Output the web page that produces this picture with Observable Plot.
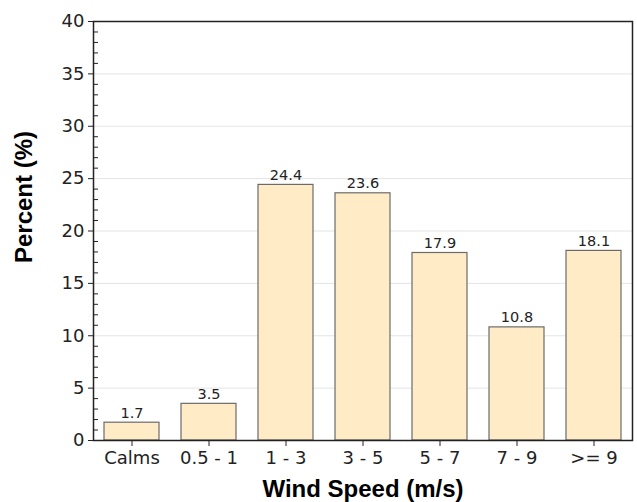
<!DOCTYPE html>
<html>
<head>
<meta charset="utf-8">
<script src="https://cdn.jsdelivr.net/npm/d3@7"></script>
<script src="https://cdn.jsdelivr.net/npm/@observablehq/plot@0.6"></script>
<style>
  html, body { margin: 0; padding: 0; background: #fff; }
  #chart { width: 637px; height: 502px; }
</style>
</head>
<body>
<div id="chart"></div>
<script>
const categories = ["Calms", "0.5 - 1", "1 - 3", "3 - 5", "5 - 7", "7 - 9", ">= 9"];
const percents = [1.7, 3.5, 24.4, 23.6, 17.9, 10.8, 18.1];
const yMajorTicks = [0, 5, 10, 15, 20, 25, 30, 35, 40];
const yMinorTicks = d3.range(0, 41, 1).filter(d => d % 5 !== 0);
const xTitle = "Wind Speed (m/s)";
const yTitle = "Percent (%)";

const data = categories.map((c, i) => ({category: c, value: percents[i]}));

const tickFont = "'DejaVu Sans', Verdana, sans-serif";
const titleFont = "'Liberation Sans', Arial, sans-serif";

const chart = Plot.plot({
  width: 637,
  height: 502,
  marginLeft: 93,
  marginRight: 5,
  marginTop: 21,
  marginBottom: 62,
  style: {fontFamily: tickFont, color: "#222", background: "#fff"},
  x: {domain: categories, paddingInner: 0.286, paddingOuter: 0.143, label: null},
  y: {domain: [0, 40], label: null},
  marks: [
    Plot.gridY(yMajorTicks, {stroke: "#e4e4e4", strokeOpacity: 1}),
    Plot.barY(data, {x: "category", y: "value", fill: "#FFEBC6", stroke: "#6b6b6b", strokeWidth: 1.2}),
    Plot.text(data, {x: "category", y: "value", text: d => d.value.toFixed(1), dy: -5, lineAnchor: "bottom", fontSize: 14.5, fill: "#222"}),
    Plot.axisY(yMajorTicks, {tickSize: 5, tickPadding: 4, fontSize: 18, label: null, stroke: "#222"}),
    Plot.axisY(yMinorTicks, {tickSize: -5, tickFormat: () => "", label: null, stroke: "#222"}),
    Plot.axisX({tickSize: 6, tickPadding: 5, fontSize: 18, label: null, stroke: "#222"}),
    Plot.frame({stroke: "#222", strokeWidth: 1.5}),
    Plot.text([xTitle], {frameAnchor: "bottom", dy: 48.5, lineAnchor: "middle", fontSize: 24, fontWeight: "bold", fontFamily: titleFont, fill: "#000"}),
    Plot.text([yTitle], {frameAnchor: "left", textAnchor: "middle", dx: -69, dy: -34, rotate: -90, lineAnchor: "middle", fontSize: 24, fontWeight: "bold", fontFamily: titleFont, fill: "#000"})
  ]
});
document.getElementById("chart").appendChild(chart);
</script>
</body>
</html>
